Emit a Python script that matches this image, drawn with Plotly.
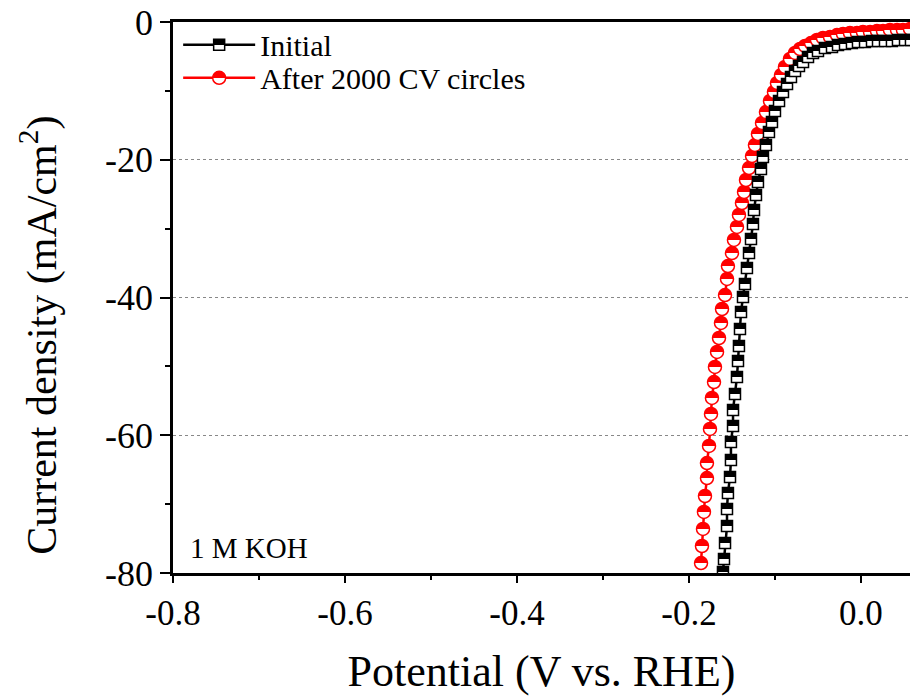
import plotly.graph_objects as go

# Initial (black half-filled squares)
initial_x = [-0.1605, -0.1593, -0.1581, -0.1558, -0.1558, -0.1547, -0.1523, -0.1512, -0.1512, -0.1488,
             -0.1488, -0.1465, -0.1442, -0.1430, -0.1419, -0.1407, -0.1395, -0.1372, -0.1349, -0.1326,
             -0.1302, -0.1279, -0.1256, -0.1244, -0.1221, -0.1198, -0.1163, -0.1140, -0.1105, -0.1070,
             -0.1035, -0.1000, -0.0953, -0.0907, -0.0860, -0.0814, -0.0767, -0.0721, -0.0674, -0.0616,
             -0.0558, -0.0500, -0.0419, -0.0337, -0.0267, -0.0186, -0.0105, -0.0035, 0.0047, 0.0128,
             0.0198, 0.0279, 0.0360, 0.0430, 0.0512, 0.0581]
initial_y = [-79.85, -77.97, -75.64, -73.18, -70.71, -68.39, -66.06, -63.59, -60.98, -58.66,
             -56.34, -54.01, -51.54, -49.22, -47.04, -44.57, -42.11, -39.93, -38.04, -35.72,
             -33.54, -31.51, -29.33, -27.30, -25.12, -23.23, -21.34, -19.60, -17.86, -15.97,
             -14.52, -12.92, -11.47, -10.16, -9.00, -7.99, -7.11, -6.39, -5.81, -5.08,
             -4.50, -4.21, -3.77, -3.63, -3.34, -3.19, -3.05, -2.90, -2.90, -2.76,
             -2.76, -2.76, -2.76, -2.61, -2.61, -2.61]

# After 2000 CV circles (red half-filled circles)
after_x = [-0.1860, -0.1849, -0.1837, -0.1826, -0.1814, -0.1791, -0.1791, -0.1767, -0.1756, -0.1744,
           -0.1733, -0.1709, -0.1698, -0.1674, -0.1651, -0.1628, -0.1616, -0.1581, -0.1558, -0.1547,
           -0.1500, -0.1477, -0.1442, -0.1419, -0.1384, -0.1360, -0.1337, -0.1302, -0.1267, -0.1233,
           -0.1198, -0.1151, -0.1105, -0.1058, -0.1012, -0.0977, -0.0930, -0.0884, -0.0826, -0.0767,
           -0.0709, -0.0651, -0.0581, -0.0512, -0.0442, -0.0360, -0.0279, -0.0209, -0.0128, -0.0047,
           0.0023, 0.0105, 0.0186, 0.0256, 0.0337, 0.0419, 0.0488, 0.0570]
after_y = [-78.55, -76.08, -73.61, -71.14, -68.82, -66.21, -64.03, -61.56, -59.09, -56.91,
           -54.59, -52.27, -50.09, -47.91, -45.88, -43.70, -41.67, -39.64, -37.31, -35.43,
           -33.54, -31.65, -29.76, -28.02, -26.28, -24.68, -22.94, -21.20, -19.46, -17.86,
           -16.26, -14.66, -13.07, -11.47, -10.16, -8.86, -7.70, -6.53, -5.37, -4.50,
           -3.92, -3.48, -3.05, -2.61, -2.32, -2.18, -1.89, -1.74, -1.60, -1.60,
           -1.45, -1.45, -1.31, -1.31, -1.16, -1.16, -1.16, -1.02]

x_ticks = [-0.8, -0.6, -0.4, -0.2, 0.0]
x_tick_labels = ["-0.8", "-0.6", "-0.4", "-0.2", "0.0"]
y_ticks = [0, -20, -40, -60, -80]
y_tick_labels = ["0", "-20", "-40", "-60", "-80"]

FONT = "Liberation Serif"

fig = go.Figure()
fig.add_trace(go.Scatter(
    x=after_x, y=after_y, mode="lines+markers", name="After 2000 CV circles",
    legend="legend2",
    line=dict(color="#ff0000", width=2.5),
    marker=dict(symbol="circle", size=13, color="#ff0000",
                gradient=dict(type="vertical", color="white"),
                line=dict(color="#ff0000", width=1.5)),
))
fig.add_trace(go.Scatter(
    x=initial_x, y=initial_y, mode="lines+markers", name="Initial",
    legend="legend",
    line=dict(color="black", width=2.5),
    marker=dict(symbol="square", size=11, color="black",
                gradient=dict(type="vertical", color="white"),
                line=dict(color="black", width=1.5)),
))

fig.add_annotation(text="1 M KOH", xref="paper", yref="paper", x=0.02, y=0.012,
                   xanchor="left", yanchor="bottom", showarrow=False,
                   font=dict(family=FONT, size=29, color="black"))

fig.add_annotation(text="Current density (mA/cm<sup>2</sup>)", xref="paper", yref="paper",
                   x=-0.182, y=0.432, xanchor="center", yanchor="middle", textangle=-90,
                   showarrow=False, font=dict(family=FONT, size=42, color="black"))

legend_common = dict(xanchor="left", yanchor="top", bgcolor="rgba(0,0,0,0)", borderwidth=0,
                     font=dict(family=FONT, size=30, color="black"), itemwidth=72)

fig.update_layout(
    width=910, height=696,
    margin=dict(l=173, r=0, t=22, b=123),
    plot_bgcolor="white", paper_bgcolor="white",
    font=dict(family=FONT, color="black"),
    showlegend=True,
    legend=dict(x=0.007, y=1.006, **legend_common),
    legend2=dict(x=0.007, y=0.946, **legend_common),
    xaxis=dict(range=[-0.8, 0.057], tickvals=x_ticks, ticktext=x_tick_labels,
               showline=True, linecolor="black", linewidth=2.5, mirror=True,
               ticks="outside", ticklen=7, tickwidth=2, tickcolor="black",
               minor=dict(dtick=0.1, tick0=-0.8, ticks="outside", ticklen=4, tickwidth=2, tickcolor="black"),
               showgrid=False, zeroline=False,
               tickfont=dict(family=FONT, size=35, color="black"),
               title=dict(text="Potential (V vs. RHE)", font=dict(family=FONT, size=44, color="black"),
                          standoff=24)),
    yaxis=dict(range=[-80, 0], tickvals=y_ticks, ticktext=y_tick_labels,
               showline=True, linecolor="black", linewidth=2.5, mirror=False,
               ticks="outside", ticklen=10, tickwidth=2, tickcolor="black",
               minor=dict(dtick=10, tick0=0, ticks="outside", ticklen=5, tickwidth=2, tickcolor="black"),
               showgrid=True, gridcolor="#888888", gridwidth=1, griddash="dot",
               zeroline=False,
               tickfont=dict(family=FONT, size=36, color="black")),
)

# Make the marker gradients sharp (top half coloured, bottom half white)
post_js = """
(function(){
  function sharpen(){
    document.querySelectorAll('linearGradient').forEach(function(g){
      var st = g.querySelectorAll('stop');
      if (st.length !== 2) return;
      var a = st[0].cloneNode(true); a.setAttribute('offset', '50%');
      var b = st[1].cloneNode(true); b.setAttribute('offset', '50%');
      g.insertBefore(a, st[1]); g.insertBefore(b, st[1]);
    });
  }
  sharpen();
  var gd = document.getElementById('{plot_id}');
  if (gd && gd.on) { gd.on('plotly_afterplot', sharpen); }
})();
"""

fig.write_html("out.html", post_script=post_js)
